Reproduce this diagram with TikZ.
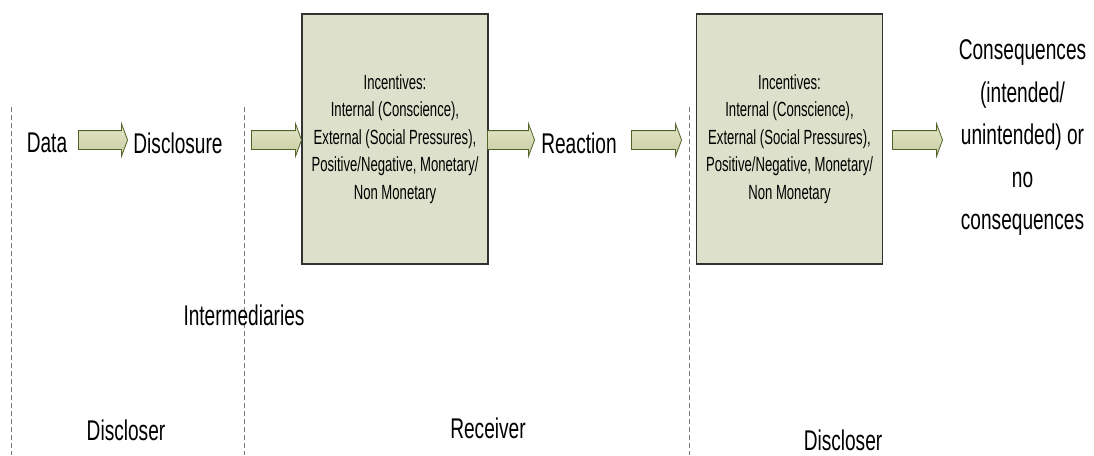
\documentclass[tikz,border=0pt]{standalone}
\usepackage{fontspec}
\setmainfont{Liberation Sans}
\newfontfamily\mfont[FakeStretch=0.67]{Liberation Sans}
\newfontfamily\bfont[FakeStretch=0.64]{Liberation Sans}
\usetikzlibrary{shapes.arrows}
\definecolor{boxfill}{RGB}{221,224,202}
\definecolor{boxline}{RGB}{50,50,50}
\definecolor{arrfill}{RGB}{200,203,158}
\definecolor{arrtop}{RGB}{230,231,204}
\definecolor{arrline}{RGB}{79,98,40}
\definecolor{sepcol}{RGB}{120,120,120}
\begin{document}
\begin{tikzpicture}[x=1pt,y=-1pt,
  lbl/.style={font=\mfont\fontsize{28.5}{42.5}\selectfont, inner sep=0pt, align=center},
  incbox/.style={draw=boxline, line width=1.3pt, fill=boxfill, minimum width=186pt, minimum height=250pt, inner sep=0pt, align=center, font=\bfont\fontsize{20.5}{27.5}\selectfont},
  barrow/.style={single arrow, draw=arrline, line width=0.8pt, top color=arrtop, bottom color=arrfill, inner xsep=0pt, inner ysep=9pt, minimum height=#1, single arrow head extend=7pt, single arrow tip angle=139, anchor=tip},
  sepline/.style={draw=sepcol, line width=0.9pt, dash pattern=on 5pt off 3pt}]
\useasboundingbox[fill=white] (0,0) rectangle (1094,455);
% separators
\draw[sepline] (11,107) -- (11,455);
\draw[sepline] (244,107) -- (244,455);
\draw[sepline] (689,107) -- (689,455);
% boxes
\node[incbox] (inc1) at (395,139) {Incentives:\\Internal (Conscience),\\External (Social Pressures),\\Positive/Negative, Monetary/\\Non Monetary};
\node[incbox] (inc2) at (789.5,139) {Incentives:\\Internal (Conscience),\\External (Social Pressures),\\Positive/Negative, Monetary/\\Non Monetary};
% labels
\node[lbl] (data) at (47,143) {Data};
\node[lbl] (disc) at (178,143) {Disclosure};
\node[lbl] (react) at (579,143) {Reaction};
\node[lbl] (cons) at (1022.5,138) {Consequences\\(intended/\\unintended) or\\no\\consequences};
\node[lbl] (inter) at (244,315) {Intermediaries};
\node[lbl] (dl) at (126,430) {Discloser};
\node[lbl] (rec) at (488,428) {Receiver};
\node[lbl] (dr) at (843,440) {Discloser};
% block arrows
\node[barrow=49pt] (a1) at (128,140) {};
\node[barrow=50pt] (a2) at (302,140) {};
\node[barrow=47pt] (a3) at (535,140) {};
\node[barrow=50pt] (a4) at (682,140) {};
\node[barrow=50pt] (a5) at (943,140) {};
\end{tikzpicture}
\end{document}
